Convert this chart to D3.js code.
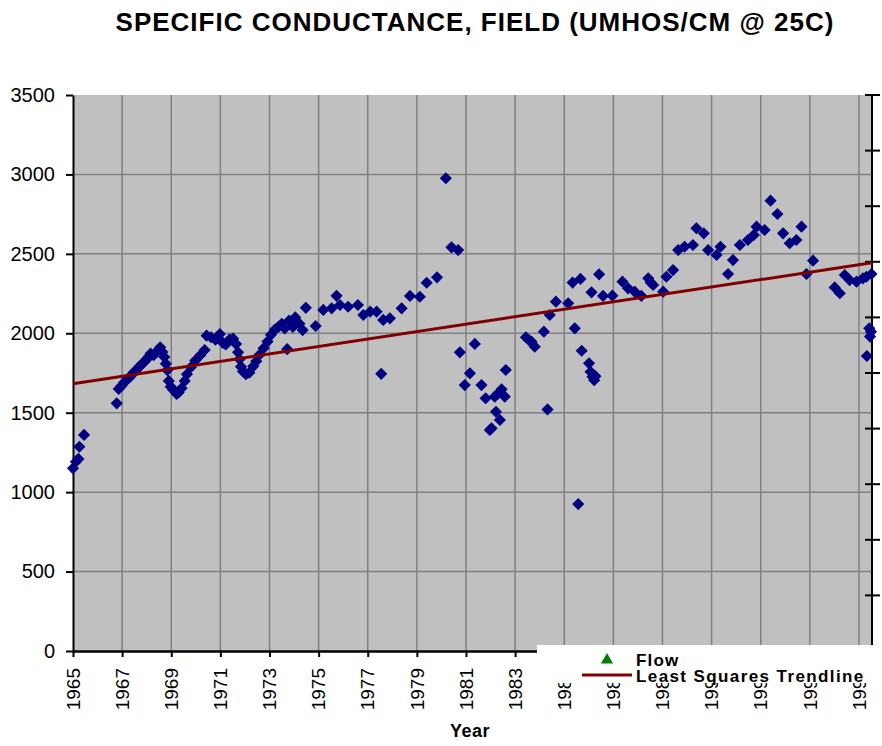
<!DOCTYPE html>
<html>
<head>
<meta charset="utf-8">
<script src="https://cdn.jsdelivr.net/npm/d3@7"></script>
<style>
  body { margin: 0; background: #ffffff; }
  text { font-family: Arial, "Liberation Sans", sans-serif; }
</style>
</head>
<body>
<svg id="chart" width="882" height="746"></svg>
<script>
// Field specific conductance samples (decimal year, umhos/cm @ 25C)
const sampleYears = [
  1965.00, 1965.12, 1965.22, 1965.26, 1965.45,
  1966.78, 1966.86, 1966.97, 1967.08, 1967.18, 1967.30, 1967.40, 1967.50, 1967.60, 1967.70,
  1967.80, 1967.90, 1968.00, 1968.08, 1968.16, 1968.28, 1968.38, 1968.47, 1968.55, 1968.64,
  1968.72, 1968.78, 1968.84, 1968.90, 1968.98, 1969.08, 1969.22, 1969.30, 1969.42, 1969.55,
  1969.64, 1969.80, 1969.98, 1970.18, 1970.36, 1970.44, 1970.62, 1970.80, 1970.98, 1971.10,
  1971.22, 1971.38, 1971.52, 1971.64, 1971.72, 1971.78, 1971.84, 1971.92, 1972.04, 1972.18,
  1972.34, 1972.46, 1972.60, 1972.76, 1972.92, 1973.06, 1973.22, 1973.36, 1973.50, 1973.62,
  1973.72, 1973.80, 1973.95, 1974.05, 1974.22, 1974.35, 1974.48, 1974.88,
  1975.19, 1975.53, 1975.73, 1975.87, 1976.20, 1976.60, 1976.82, 1977.10, 1977.36, 1977.55,
  1977.63, 1977.90, 1978.38, 1978.72, 1979.12, 1979.40, 1979.82,
  1980.18, 1980.41, 1980.68, 1980.75, 1980.95, 1981.16, 1981.36, 1981.63, 1981.80, 1981.97,
  1982.04, 1982.17, 1982.22, 1982.30, 1982.38, 1982.45, 1982.58, 1982.62,
  1983.44, 1983.56, 1983.67, 1983.80, 1984.17, 1984.32, 1984.41, 1984.66,
  1985.16, 1985.34, 1985.43, 1985.57, 1985.66, 1985.71, 1986.01, 1986.07, 1986.15, 1986.22,
  1986.27, 1986.11, 1986.42, 1986.58, 1986.96, 1987.37, 1987.60, 1987.87, 1988.14, 1988.42,
  1988.52, 1988.62, 1989.03, 1989.16, 1989.43, 1989.64, 1989.90,
  1990.24, 1990.38, 1990.68, 1990.86, 1991.20, 1991.36, 1991.67, 1991.87, 1992.15, 1992.48,
  1992.72, 1992.83, 1993.16, 1993.40, 1993.68, 1993.91, 1994.18, 1994.45, 1994.66, 1994.86,
  1995.13, 1996.01, 1996.22, 1996.42, 1996.62, 1996.90, 1997.16, 1997.30, 1997.51,
  1997.32, 1997.42, 1997.49, 1997.45
];
const conductance = [
  1150, 1192, 1209, 1286, 1360,
  1559, 1650, 1668, 1690, 1706, 1722, 1740, 1758, 1772, 1790,
  1805, 1820, 1836, 1852, 1872, 1862, 1878, 1893, 1912, 1882,
  1850, 1808, 1768, 1700, 1664, 1643, 1618, 1628, 1654, 1700,
  1742, 1786, 1828, 1862, 1895, 1985, 1975, 1960, 1995, 1940,
  1930, 1962, 1966, 1932, 1880, 1836, 1790, 1760, 1742, 1752,
  1792, 1824, 1866, 1906, 1948, 1990, 2024, 2040, 2060, 2030,
  1900, 2080, 2040, 2100, 2060, 2020, 2160, 2046,
  2147, 2157, 2236, 2178, 2167, 2178, 2115, 2136, 2136, 1745,
  2084, 2094, 2157, 2235, 2230, 2318, 2352,
  2976, 2541, 2524, 1880, 1674, 1748, 1933, 1674, 1591, 1391,
  1402, 1601, 1506, 1620, 1454, 1647, 1601, 1769,
  1975, 1958, 1947, 1916, 2010, 1521, 2115, 2199,
  2189, 2319, 2031, 925, 2342, 1890, 1811, 1758, 1727, 1705,
  1730, 2258, 2371, 2235, 2237, 2325, 2283, 2262, 2235, 2346,
  2320, 2304, 2262, 2356, 2398, 2524, 2545,
  2556, 2661, 2629, 2524, 2493, 2545, 2373, 2461, 2556, 2587,
  2619, 2671, 2650, 2835, 2751, 2629, 2567, 2587, 2671, 2373,
  2457, 2289, 2252, 2367, 2335, 2325, 2346, 2356, 2373,
  1857, 2031, 2010, 1979
];

// Flow series appears only in the legend (no values)
const flowYears = [];
const flowValues = [];

// Least squares trendline end points
const trendYears = [1965, 1997.53];
const trendValues = [1683, 2444];

// Axis ticks
const yTicks = [0, 500, 1000, 1500, 2000, 2500, 3000, 3500];
const xTickYears = [1965, 1967, 1969, 1971, 1973, 1975, 1977, 1979, 1981, 1983,
                    1985, 1987, 1989, 1991, 1993, 1995, 1997];
const flowAxisDivisions = 10;

const svg = d3.select("#chart");

const plot = { left: 73, right: 872, top: 95, bottom: 651 };
const x = d3.scaleLinear().domain([1965, 1997.53]).range([plot.left, plot.right]);
const y = d3.scaleLinear().domain([0, 3500]).range([plot.bottom, plot.top]);
const yFlow = d3.scaleLinear().domain([0, flowAxisDivisions]).range([plot.bottom, plot.top]);

// Title
svg.append("text")
  .attr("x", 475).attr("y", 31)
  .attr("text-anchor", "middle")
  .style("font-size", "26px").style("font-weight", "bold")
  .style("letter-spacing", "1px")
  .text("SPECIFIC CONDUCTANCE, FIELD (UMHOS/CM @ 25C)");

// Plot background
svg.append("rect")
  .attr("x", plot.left).attr("y", plot.top)
  .attr("width", plot.right - plot.left).attr("height", plot.bottom - plot.top)
  .attr("fill", "#c0c0c0");

// Gridlines
svg.append("g").selectAll("line")
  .data(yTicks.filter(v => v > 0 && v < 3500))
  .join("line")
  .attr("x1", plot.left).attr("x2", plot.right)
  .attr("y1", d => y(d)).attr("y2", d => y(d))
  .attr("stroke", "#808080").attr("stroke-width", 1.5);

svg.append("g").selectAll("line")
  .data(xTickYears.filter(v => v > 1965))
  .join("line")
  .attr("x1", d => x(d)).attr("x2", d => x(d))
  .attr("y1", plot.top).attr("y2", plot.bottom)
  .attr("stroke", "#808080").attr("stroke-width", 1.5);

// Left axis
const yAxis = svg.append("g")
  .attr("transform", `translate(${plot.left},0)`)
  .call(d3.axisLeft(y).tickValues(yTicks).tickFormat(d3.format("d"))
    .tickSize(7).tickPadding(11).tickSizeOuter(0));
yAxis.select(".domain").attr("stroke", "#000").attr("stroke-width", 2);
yAxis.selectAll(".tick line").attr("stroke", "#000").attr("stroke-width", 2);
yAxis.selectAll(".tick text")
  .style("font-size", "20px").attr("fill", "#000")
  .style("font-family", "Arial, 'Liberation Sans', sans-serif");

// Bottom axis
const xAxis = svg.append("g")
  .attr("transform", `translate(0,${plot.bottom})`)
  .call(d3.axisBottom(x).tickValues(xTickYears).tickSize(6).tickSizeOuter(0).tickFormat(""));
xAxis.select(".domain").attr("stroke", "#000").attr("stroke-width", 2.5);
xAxis.selectAll(".tick line").attr("stroke", "#000").attr("stroke-width", 2);

// Rotated year labels
svg.append("g").selectAll("text")
  .data(xTickYears)
  .join("text")
  .attr("transform", d => `translate(${x(d)},668) rotate(-90)`)
  .attr("text-anchor", "end")
  .attr("dy", "0.35em")
  .style("font-size", "19px")
  .text(d => d);

// Right (flow) axis with crossing ticks
svg.append("line")
  .attr("x1", plot.right).attr("x2", plot.right)
  .attr("y1", plot.top).attr("y2", plot.bottom)
  .attr("stroke", "#000").attr("stroke-width", 2);
svg.append("g").selectAll("line")
  .data(yFlow.ticks(flowAxisDivisions))
  .join("line")
  .attr("x1", plot.right - 7).attr("x2", plot.right + 8)
  .attr("y1", d => yFlow(d)).attr("y2", d => yFlow(d))
  .attr("stroke", "#000").attr("stroke-width", 2);

// Conductance samples (navy diamonds)
const diamond = d3.symbol().type(d3.symbolSquare).size(74);
svg.append("g").selectAll("path")
  .data(sampleYears.map((t, i) => [t, conductance[i]]))
  .join("path")
  .attr("d", diamond)
  .attr("transform", d => `translate(${x(d[0])},${y(d[1])}) rotate(45)`)
  .attr("fill", "#000080");

// Flow points (none recorded)
svg.append("g").selectAll("path")
  .data(flowYears.map((t, i) => [t, flowValues[i]]))
  .join("path")
  .attr("d", d3.symbol().type(d3.symbolTriangle).size(60))
  .attr("transform", d => `translate(${x(d[0])},${yFlow(d[1])})`)
  .attr("fill", "#008000");

// Trendline
svg.append("line")
  .attr("x1", x(trendYears[0])).attr("y1", y(trendValues[0]))
  .attr("x2", x(trendYears[1])).attr("y2", y(trendValues[1]))
  .attr("stroke", "#800000").attr("stroke-width", 3);

// X axis title
svg.append("text")
  .attr("x", 470).attr("y", 737)
  .attr("text-anchor", "middle")
  .style("font-size", "18px").style("font-weight", "bold")
  .style("letter-spacing", "0.5px")
  .text("Year");

// Legend
const legend = svg.append("g");
legend.append("rect")
  .attr("x", 537).attr("y", 645).attr("width", 345).attr("height", 38)
  .attr("fill", "#ffffff");
legend.append("path")
  .attr("d", d3.symbol().type(d3.symbolTriangle).size(64))
  .attr("transform", "translate(607,660)")
  .attr("fill", "#008000");
legend.append("text")
  .attr("x", 636).attr("y", 666)
  .style("font-size", "17px").style("font-weight", "bold")
  .style("letter-spacing", "1.2px")
  .text("Flow");
legend.append("line")
  .attr("x1", 582).attr("x2", 632).attr("y1", 675).attr("y2", 675)
  .attr("stroke", "#800000").attr("stroke-width", 3);
legend.append("text")
  .attr("x", 636).attr("y", 682)
  .style("font-size", "17px").style("font-weight", "bold")
  .style("letter-spacing", "1.4px")
  .text("Least Squares Trendline");
</script>
</body>
</html>
